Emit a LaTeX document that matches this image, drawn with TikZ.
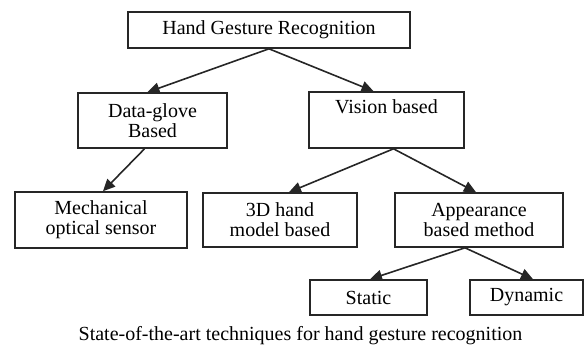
\documentclass[tikz,border=0pt]{standalone}
\usepackage{fontspec}
\setmainfont{Liberation Serif}
\usetikzlibrary{arrows.meta,calc}
\begin{document}
\begin{tikzpicture}[x=1pt,y=-1pt,
  box/.style={draw=black!85,line width=1.6pt,inner sep=0pt,align=center,
    font=\fontsize{20}{20}\selectfont},
  link/.style={draw=black!85,line width=1.6pt,-{Triangle[length=12pt,width=11pt]}}]
\useasboundingbox (0,0) rectangle (585,349);

% tree of boxes
\node[box,minimum width=282pt,minimum height=36pt] (top) at (269,30) {Hand Gesture Recognition};
\node[box,minimum width=149pt,minimum height=55pt] (glove) at (152.5,120.5) {Data-glove\\Based};
\node[box,minimum width=155pt,minimum height=56pt] (vision) at (386.5,120) {Vision based\\\strut};
\node[box,minimum width=172pt,minimum height=56pt] (mech) at (101,220) {Mechanical\\optical sensor};
\node[box,minimum width=154pt,minimum height=54pt] (hand3d) at (280,220) {3D hand\\model based};
\node[box,minimum width=168pt,minimum height=54pt] (appear) at (479,220) {Appearance\\based method};
\node[box,minimum width=117pt,minimum height=35pt] (static) at (368.5,297.5) {Static};
\node[box,minimum width=113pt,minimum height=35pt] (dynamic) at (526.5,297.5) {Dynamic};

% caption
\node[font=\fontsize{20}{20}\selectfont] (caption) at (300.5,336) {State-of-the-art techniques for hand gesture recognition};

% connectors
\draw[link] (top.south) -- ($(glove.north)+(-5,0)$);
\draw[link] (top.south) -- ($(vision.north)+(-13,0)$);
\draw[link] ($(glove.south)+(-8,0)$) -- ($(mech.north)+(2,0)$);
\draw[link] ($(vision.south)+(7,0)$) -- ($(hand3d.north)+(9,0)$);
\draw[link] ($(vision.south)+(7,0)$) -- ($(appear.north)+(-3,0)$);
\draw[link] ($(appear.south)+(-14,0)$) -- ($(static.north)+(1.5,0)$);
\draw[link] ($(appear.south)+(-14,0)$) -- ($(dynamic.north)+(6.5,0)$);
\end{tikzpicture}
\end{document}
